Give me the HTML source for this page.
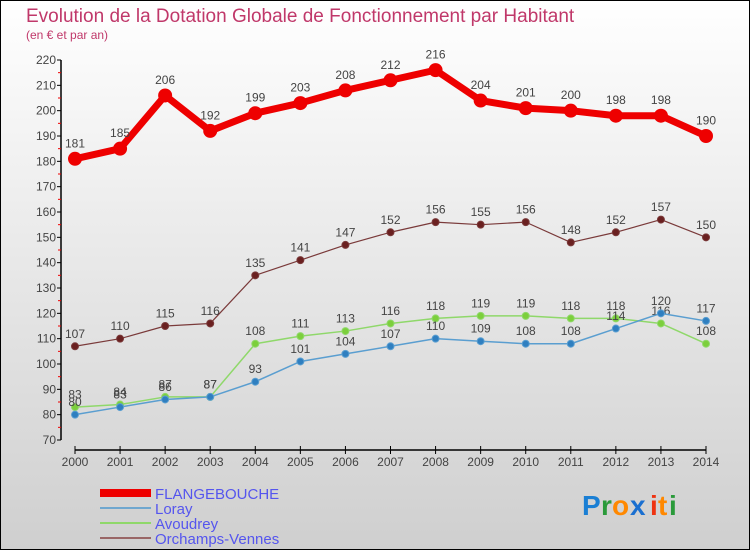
<!DOCTYPE html>
<html><head><meta charset="utf-8"><style>
html,body{margin:0;padding:0;}
body{width:750px;height:550px;overflow:hidden;font-family:"Liberation Sans",sans-serif;}
</style></head><body>
<svg id="c" width="750" height="550" xmlns="http://www.w3.org/2000/svg" font-family="Liberation Sans, sans-serif">
<defs><linearGradient id="bg" x1="0" y1="0" x2="0" y2="1"><stop offset="0" stop-color="#ffffff"/><stop offset="1" stop-color="#cfcfcf"/></linearGradient></defs>
<rect x="0.5" y="0.5" width="749" height="549" fill="url(#bg)" stroke="#000"/>
<text x="26" y="22" font-size="19" fill="#c0386a">Evolution de la Dotation Globale de Fonctionnement par Habitant</text>
<text x="26" y="39" font-size="12" fill="#c0386a">(en € et par an)</text>
<g id="axes"></g>
<g id="series"></g>
<g>
<rect x="100" y="489" width="51" height="8" fill="#e00"/>
<text x="155" y="499" font-size="15" fill="#5555ee">FLANGEBOUCHE</text>
<rect x="100" y="507" width="51" height="2" fill="#6fa7cf"/>
<text x="155" y="514" font-size="15" fill="#5555ee">Loray</text>
<rect x="100" y="522" width="51" height="2" fill="#8fd86a"/>
<text x="155" y="529" font-size="15" fill="#5555ee">Avoudrey</text>
<rect x="100" y="537" width="51" height="2" fill="#996666"/>
<text x="155" y="544" font-size="15" fill="#5555ee">Orchamps-Vennes</text>
</g>
<g font-size="28" font-weight="bold">
<text x="582" y="515" fill="#1a7fd4">P</text><text x="601" y="515" fill="#2a9a3a">r</text><text x="612" y="515" fill="#ff8800">o</text><text x="630" y="515" fill="#1a6fd0">x</text><text x="650" y="515" fill="#ee3311">i</text><text x="658" y="515" fill="#ff8800">t</text><text x="669" y="515" fill="#2a9a3a">i</text>
</g>
</svg>
<script>
const years=[2000,2001,2002,2003,2004,2005,2006,2007,2008,2009,2010,2011,2012,2013,2014];
const flangebouche=[181,185,206,192,199,203,208,212,216,204,201,200,198,198,190];
const loray=[80,83,86,87,93,101,104,107,110,109,108,108,114,120,117];
const avoudrey=[83,84,87,87,108,111,113,116,118,119,119,118,118,116,108];
const orchamps=[107,110,115,116,135,141,147,152,156,155,156,148,152,157,150];
const yTicks=[70,80,90,100,110,120,130,140,150,160,170,180,190,200,210,220];
const NS="http://www.w3.org/2000/svg";
const x=i=>75+i*(706-75)/(years.length-1);
const y=v=>440-(v-70)*(380/150);
function mk(tag,attrs,parent){const e=document.createElementNS(NS,tag);for(const k in attrs)e.setAttribute(k,attrs[k]);parent.appendChild(e);return e;}
const ax=document.getElementById('axes');
let l=mk('line',{x1:61,y1:60,x2:61,y2:440,stroke:'#000','stroke-width':1.5},ax);


yTicks.forEach(v=>{
 mk('line',{x1:57,x2:61,y1:y(v),y2:y(v),stroke:'#000'},ax);
 if(v<220) mk('line',{x1:58,x2:61,y1:y(v+5),y2:y(v+5),stroke:'#e00'},ax);
 const t=mk('text',{x:56,y:y(v)+4,'font-size':12,fill:'#444','text-anchor':'end'},ax);t.textContent=v;
 
 
});
l=mk('line',{x1:75,y1:450,x2:706,y2:450,stroke:'#000','stroke-width':1.5},ax);


years.forEach((yr,i)=>{
 mk('line',{x1:x(i),x2:x(i),y1:446,y2:454,stroke:'#000'},ax);
 const t=mk('text',{x:x(i),y:466,'font-size':12,fill:'#444','text-anchor':'middle'},ax);t.textContent=yr;
 
 
});
const sg=document.getElementById('series');
function draw(vals,name,color,w,r,fill){
 const g=mk('g',{},sg);
 
 
 const p=mk('polyline',{points:vals.map((v,i)=>x(i)+','+y(v)).join(' '),fill:'none',stroke:color,'stroke-width':w,'stroke-linejoin':'round'},g);
 
 
 vals.forEach((v,i)=>{
  const c=mk('circle',{cx:x(i),cy:y(v),r:r,fill:fill,stroke:color,'stroke-width':1},g);
  
  
  const t=mk('text',{x:x(i),y:y(v)-(r+5),'font-size':12,fill:'#444','text-anchor':'middle'},g);t.textContent=v;
  
  
 });
}
draw(orchamps,'orchamps-vennes','#7a3a3a',1.2,3.5,'#6a2020');
draw(avoudrey,'avoudrey','#8fd86a',1.5,3.5,'#7ccf3c');
draw(loray,'loray','#5a9ed0',1.5,3.5,'#2f7fc0');
draw(flangebouche,'flangebouche','#ee0000',7,6.5,'#ee0000');
</script>
</body></html>
